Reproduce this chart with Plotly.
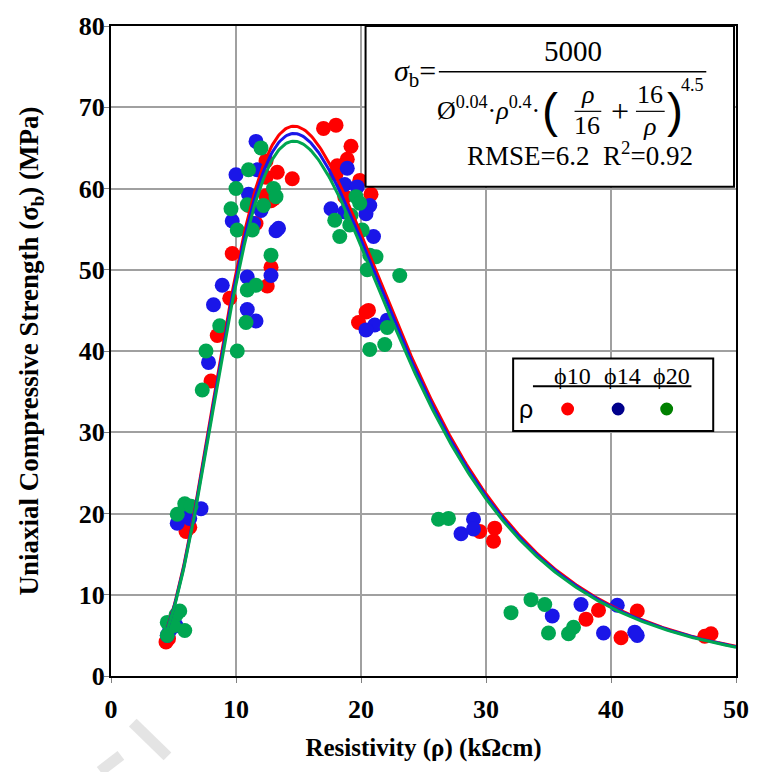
import numpy as np
import plotly.graph_objects as go

# ---------------- data ----------------
red_x = [4.4, 4.6, 6.0, 6.3, 8.0, 8.5, 9.5, 9.7, 11.0, 11.6, 12.4, 12.4, 12.4, 12.8, 13.0, 13.3, 14.5,
         12.5, 12.8, 17.0, 18.0, 19.2, 18.9, 18.1, 18.0, 19.9, 20.8, 18.7, 19.8, 20.4, 20.6,
         29.5, 30.7, 30.6, 38.0, 39.0, 42.1, 40.8, 47.5, 48.0]
red_y = [4.2, 4.6, 17.8, 18.3, 36.3, 41.9, 46.5, 52.0, 57.9, 55.7, 63.4, 61.4, 59.1, 58.5, 58.7, 62.0, 61.2,
         48.0, 50.3, 67.4, 67.8, 65.2, 63.6, 62.8, 61.8, 61.0, 59.3, 59.0, 43.5, 44.8, 45.0,
         17.8, 18.2, 16.6, 7.0, 8.1, 8.0, 4.7, 4.9, 5.2]

blue_x = [4.5, 4.7, 5.2, 5.3, 6.3, 7.2, 6.0, 7.8, 8.2, 8.9, 10.9, 12.8, 10.9, 11.6,
          11.6, 10.0, 11.7, 11.0, 12.0, 9.7, 11.4, 13.2, 13.4,
          18.9, 18.7, 19.7, 17.6, 18.7, 20.7, 20.4, 21.0, 22.1, 21.1, 20.4,
          29.0, 28.0, 29.0, 35.3, 37.6, 39.4, 40.5, 41.9, 42.1]
blue_y = [5.0, 5.6, 6.2, 18.8, 19.4, 20.6, 19.8, 38.6, 45.7, 48.1, 49.1, 49.3, 45.1, 43.7,
          65.8, 61.7, 62.3, 59.3, 57.3, 56.0, 55.7, 54.8, 55.1,
          62.5, 60.5, 60.2, 57.5, 57.1, 57.9, 56.9, 54.1, 43.8, 43.2, 42.6,
          19.3, 17.5, 18.1, 7.4, 8.8, 5.3, 8.7, 5.4, 5.0]

green_x = [4.5, 4.5, 5.5, 5.9, 5.2, 5.0, 5.3, 5.9, 6.4,
           7.3, 7.6, 10.1, 8.7, 10.8, 10.9, 11.6, 12.8,
           12.0, 11.0, 10.0, 13.0, 13.2, 9.6, 10.9, 12.2, 10.1, 11.3,
           19.6, 19.9, 17.9, 19.2, 18.3, 19.1, 20.1, 20.7, 21.2, 20.5, 23.1, 20.7, 21.9, 22.1,
           26.2, 27.0, 32.0, 33.6, 34.7, 35.0, 36.6, 37.0]
green_y = [5.0, 6.6, 8.0, 5.6, 7.5, 6.2, 19.9, 21.2, 20.9,
           35.2, 40.0, 40.0, 43.1, 43.5, 47.5, 48.1, 51.8,
           65.0, 62.3, 60.0, 60.0, 59.0, 57.5, 58.0, 57.9, 54.9, 54.9,
           59.0, 58.2, 56.1, 56.7, 54.1, 55.5, 54.9, 51.8, 51.6, 50.0, 49.3, 40.2, 40.8, 42.9,
           19.3, 19.4, 7.8, 9.4, 8.8, 5.3, 5.2, 6.0]

diameters = [10, 14, 20]
series_names = ["ϕ10", "ϕ14", "ϕ20"]
x_ticks = [0, 10, 20, 30, 40, 50]
y_ticks = [0, 10, 20, 30, 40, 50, 60, 70, 80]

RED, BLUE, GREEN = "#FF0000", "#1A16E8", "#00A651"
LEG_RED, LEG_BLUE, LEG_GREEN = "#FF0000", "#00008B", "#008000"

# fitted model shown in the box
def model(rho, phi):
    return 5000.0 / (phi ** 0.04 * rho ** 0.4 * (rho / 16 + 16 / rho) ** 4.5)

rho = np.linspace(4.5, 50, 400)

# ---------------- geometry helpers (pixel -> data / paper) ----------------
PX0, PX1, PY0, PY1 = 111, 742, 676, 21
XMAX, YMAX = 50, 80
def dx(px):
    return (px - PX0) * XMAX / (PX1 - PX0)
def dy(py):
    return (PY0 - py) * YMAX / (PY0 - PY1)
def pxp(px):
    return (px - PX0) / (PX1 - PX0)
def pyp(py):
    return (PY0 - py) / (PY0 - PY1)

fig = go.Figure()
for xs, ys, col, nm in [(red_x, red_y, RED, series_names[0]),
                        (blue_x, blue_y, BLUE, series_names[1]),
                        (green_x, green_y, GREEN, series_names[2])]:
    fig.add_trace(go.Scatter(x=xs, y=ys, mode="markers", name=nm, showlegend=False,
                             marker=dict(color=col, size=15, line=dict(width=0))))

for phi, col in zip(diameters, [RED, BLUE, GREEN]):
    fig.add_trace(go.Scatter(x=rho, y=model(rho, phi), mode="lines", showlegend=False,
                             line=dict(color=col, width=3)))

serif = "Liberation Serif"
ann = []
shapes = []

# faint watermark strokes (bottom-left)
for (a, b, c, d) in [(100, 772, 121, 756), (133, 723, 168, 757)]:
    shapes.append(dict(type="line", xref="paper", yref="paper", x0=pxp(a), y0=pyp(b), x1=pxp(c), y1=pyp(d),
                       line=dict(color="#E4E4E4", width=11), layer="below"))

# formula box
shapes.append(dict(type="rect", xref="x", yref="y", x0=dx(368), x1=dx(740), y0=dy(183), y1=dy(21),
                   line=dict(color="black", width=2), fillcolor="white", layer="above"))
def txt(px, py, text, size, xanchor="center", family=serif, color="black"):
    ann.append(dict(x=dx(px), y=dy(py), xref="x", yref="y", text=text, showarrow=False,
                    xanchor=xanchor, yanchor="middle", font=dict(family=family, size=size, color=color)))
def hline(px0, px1, py, w=1.5):
    shapes.append(dict(type="line", xref="x", yref="y", x0=dx(px0), x1=dx(px1), y0=dy(py), y1=dy(py),
                       line=dict(color="black", width=w), layer="above"))

txt(441, 68, "<i>σ</i><sub>b</sub>=", 30, xanchor="right")
txt(577, 46, "5000", 29)
hline(442, 712, 67)
txt(438, 104, "Ø<sup>0.04</sup>·<i>ρ</i><sup>0.4</sup>·", 26, xanchor="left")
txt(554, 106, "(", 48, family="Liberation Sans")
txt(592, 90, "<i>ρ</i>", 26)
hline(579, 606, 107, 1.2)
txt(592, 121, "16", 26)
txt(625, 107, "+", 32)
txt(655, 90, "16", 26)
hline(641, 670, 107, 1.2)
txt(655, 122, "<i>ρ</i>", 26)
txt(680, 106, ")", 48, family="Liberation Sans")
txt(698, 80, "4.5", 18)
txt(584, 150, "RMSE=6.2&nbsp;&nbsp;R<sup>2</sup>=0.92", 27)

# legend box
shapes.append(dict(type="rect", xref="x", yref="y", x0=dx(517), x1=dx(719), y0=dy(429), y1=dy(356),
                   line=dict(color="black", width=2), fillcolor="white", layer="above"))
txt(577, 374, "ϕ10", 24)
txt(627, 374, "ϕ14", 24)
txt(677, 374, "ϕ20", 24)
hline(537, 697, 384, 2)
txt(530, 407, "ρ", 25, family="Liberation Sans")
rx, ry = 6.5 * XMAX / (PX1 - PX0), 6.5 * YMAX / (PY0 - PY1)
for cx, col in [(572, LEG_RED), (623, LEG_BLUE), (672, LEG_GREEN)]:
    shapes.append(dict(type="circle", xref="x", yref="y", x0=dx(cx) - rx, x1=dx(cx) + rx,
                       y0=dy(407) - ry, y1=dy(407) + ry, fillcolor=col, line=dict(width=0), layer="above"))

axis_common = dict(showgrid=True, gridcolor="#A0A0A0", gridwidth=1.5, showline=True, linecolor="black",
                   linewidth=2, mirror=True, ticks="outside", ticklen=5, tickcolor="#808080",
                   tickfont=dict(family=serif, size=26, color="black"), zeroline=False)

fig.update_layout(
    width=761, height=772,
    margin=dict(l=111, r=19, t=21, b=96),
    plot_bgcolor="white", paper_bgcolor="white",
    xaxis=dict(range=[0, XMAX], tickvals=x_ticks, ticktext=[f"<b>{v}</b>" for v in x_ticks],
               title=dict(text="<b>Resistivity (ρ) (kΩcm)</b>", font=dict(family=serif, size=25, color="black"),
                          standoff=15),
               ticklabelstandoff=4, **axis_common),
    yaxis=dict(range=[0, YMAX], tickvals=y_ticks, ticktext=[f"<b>{v}</b>" for v in y_ticks],
               title=dict(text="<b>Uniaxial Compressive Strength (σ<sub>b</sub>) (MPa)</b>",
                          font=dict(family=serif, size=27, color="black"), standoff=32),
               ticklabelstandoff=-6, **axis_common),
    annotations=ann, shapes=shapes,
)

fig.write_html("out.html")
